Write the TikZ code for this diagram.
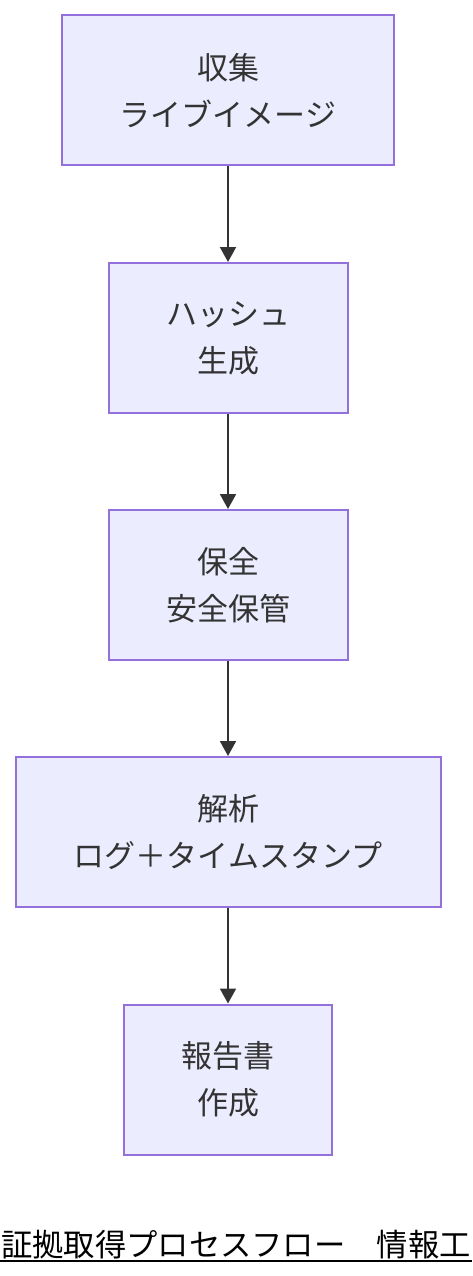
\documentclass[tikz,border=0pt]{standalone}
\usepackage{fontspec}
\setmainfont{Noto Sans CJK JP}
\usetikzlibrary{arrows.meta}
\definecolor{boxfill}{HTML}{ECECFF}
\definecolor{boxline}{HTML}{9370DB}
\definecolor{ink}{HTML}{333333}
\tikzset{
  flowbox/.style={draw=boxline, fill=boxfill, line width=2pt, inner sep=0pt,
    minimum height=150pt, align=center, text=ink,
    font=\fontsize{31}{47}\selectfont},
  flowarrow/.style={draw=ink, line width=2pt, -{Triangle[length=15pt,width=16pt]}},
}
\begin{document}
\begin{tikzpicture}[x=1pt,y=-1pt]
\useasboundingbox (0,0) rectangle (472,1276);
\node[flowbox, minimum width=332pt] (a) at (228,90.5) {収集\\ライブイメージ};
\node[flowbox, minimum width=239pt] (b) at (228,338) {ハッシュ\\生成};
\node[flowbox, minimum width=239pt] (c) at (228,585) {保全\\安全保管};
\node[flowbox, minimum width=425pt] (d) at (228,832) {解析\\ログ＋タイムスタンプ};
\node[flowbox, minimum width=208pt] (e) at (228,1079.5) {報告書\\作成};
\draw[flowarrow] (a) -- (b);
\draw[flowarrow] (b) -- (c);
\draw[flowarrow] (c) -- (d);
\draw[flowarrow] (d) -- (e);
\node[anchor=base west, inner sep=0pt, font=\fontsize{31.3}{31.3}\selectfont] (t) at (1,1256) {証拠取得プロセスフロー　情報工};
\coordinate (ul) at (0,1261);
\coordinate (ur) at (472,1261);
\draw[line width=2pt] (ul) -- (ur);
\end{tikzpicture}
\end{document}
